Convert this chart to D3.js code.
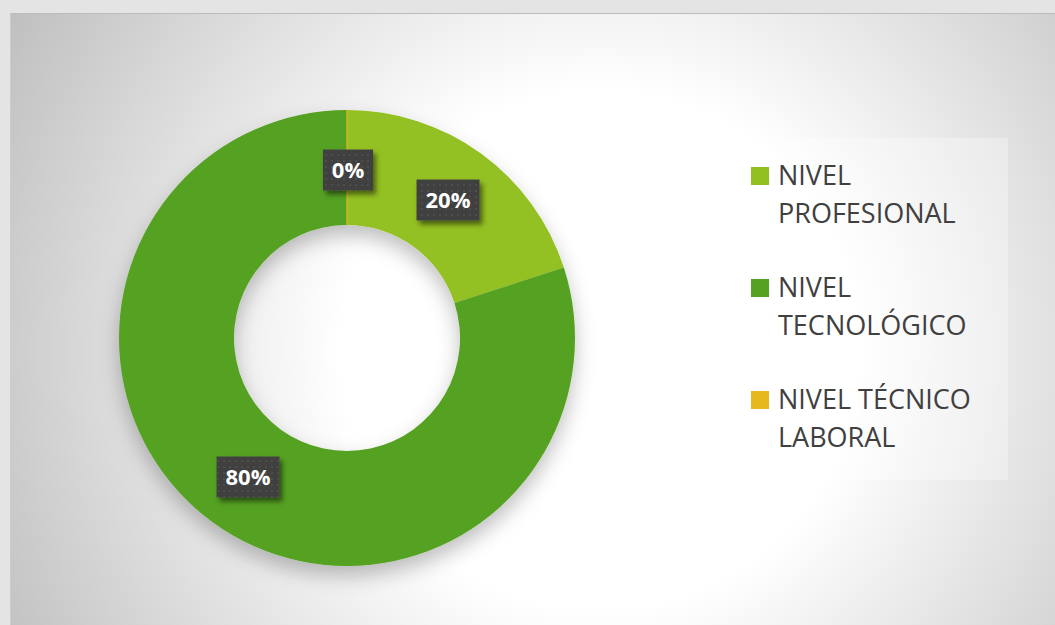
<!DOCTYPE html>
<html><head><meta charset="utf-8">
<script src="https://cdn.jsdelivr.net/npm/d3@7"></script>
<style>
html,body{margin:0;padding:0;background:#e4e4e4;}
svg{display:block;}
</style></head>
<body>
<script>
const categories = ["NIVEL PROFESIONAL", "NIVEL TECNOLÓGICO", "NIVEL TÉCNICO LABORAL"];
const legendLines = [["NIVEL", "PROFESIONAL"], ["NIVEL", "TECNOLÓGICO"], ["NIVEL TÉCNICO", "LABORAL"]];
const values = [20, 80, 0];
const labels = ["20%", "80%", "0%"];
const colors = ["#93c021", "#55a121", "#e6b81e"];

const W = 1055, H = 625;
const svg = d3.select("body").append("svg").attr("width", W).attr("height", H);
const defs = svg.append("defs");

const rg = defs.append("radialGradient").attr("id", "bg")
  .attr("gradientUnits", "userSpaceOnUse")
  .attr("cx", 600).attr("cy", 350).attr("r", 680);
rg.append("stop").attr("offset", "0").attr("stop-color", "#ffffff");
rg.append("stop").attr("offset", "0.38").attr("stop-color", "#ffffff");
rg.append("stop").attr("offset", "1").attr("stop-color", "#bfbfbf");

const sh = defs.append("filter").attr("id", "pieShadow").attr("x", "-30%").attr("y", "-30%").attr("width", "160%").attr("height", "160%");
sh.append("feDropShadow").attr("dx", 0).attr("dy", 10).attr("stdDeviation", 10).attr("flood-color", "#000").attr("flood-opacity", 0.25);

const ls = defs.append("filter").attr("id", "lblShadow").attr("x", "-30%").attr("y", "-30%").attr("width", "160%").attr("height", "160%");
ls.append("feDropShadow").attr("dx", 3).attr("dy", 4).attr("stdDeviation", 2.5).attr("flood-color", "#000").attr("flood-opacity", 0.5);

const pat = defs.append("pattern").attr("id", "dots").attr("patternUnits", "userSpaceOnUse")
  .attr("width", 6).attr("height", 6);
pat.append("rect").attr("width", 6).attr("height", 6).attr("fill", "#404040");
pat.append("rect").attr("x", 2).attr("y", 2).attr("width", 2).attr("height", 2).attr("fill", "#4d4d4d");

// chart area
svg.append("rect").attr("x", 10).attr("y", 13).attr("width", W - 10).attr("height", H - 13).attr("fill", "url(#bg)");
svg.append("line").attr("x1", 10).attr("x2", W).attr("y1", 13.5).attr("y2", 13.5).attr("stroke", "#bcbcbc").attr("stroke-width", 1);
svg.append("line").attr("x1", 10.5).attr("x2", 10.5).attr("y1", 13).attr("y2", H).attr("stroke", "#cccccc").attr("stroke-width", 1);

const cx = 347, cy = 338, rOut = 228, rIn = 113;
const pie = d3.pie().sort(null).value(d => d.v);
const data = pie(values.map((v, i) => ({v, i})));
const arc = d3.arc().innerRadius(rIn).outerRadius(rOut);
const g = svg.append("g").attr("transform", `translate(${cx},${cy})`);
g.append("g").attr("filter", "url(#pieShadow)")
  .selectAll("path").data(data).join("path")
  .attr("d", arc).attr("fill", d => colors[d.data.i]);
// zero-value slice hairline
data.filter(d => d.data.v === 0).forEach(d => {
  const a = d.startAngle;
  g.append("line")
    .attr("x1", rIn * Math.sin(a)).attr("y1", -rIn * Math.cos(a))
    .attr("x2", rOut * Math.sin(a)).attr("y2", -rOut * Math.cos(a))
    .attr("stroke", colors[d.data.i]).attr("stroke-width", 1.2);
});

// data labels
const labelPos = [[101, -138], [-99, 139], [1, -168]];
const boxW = [63, 63, 50], boxH = 41;
const lg = g.append("g");
data.forEach((d, k) => {
  const i = d.data.i;
  const [lx, ly] = labelPos[i];
  const bw = boxW[i];
  lg.append("rect").attr("x", lx - bw / 2).attr("y", ly - boxH / 2).attr("width", bw).attr("height", boxH)
    .attr("fill", "url(#dots)").attr("filter", "url(#lblShadow)");
  lg.append("text").attr("x", lx).attr("y", ly).attr("dy", "0.36em").attr("text-anchor", "middle")
    .attr("font-family", "'Open Sans', sans-serif").attr("font-weight", "bold").attr("font-size", 22)
    .attr("fill", "#ffffff").text(labels[i]);
});

// legend
svg.append("rect").attr("x", 716).attr("y", 138).attr("width", 292).attr("height", 342)
  .attr("fill", "#ffffff").attr("fill-opacity", 0.3);
const leg = svg.append("g");
categories.forEach((c, i) => {
  const y0 = 185 + i * 112;
  leg.append("rect").attr("x", 751).attr("y", y0 - 18).attr("width", 18).attr("height", 18).attr("fill", colors[i]);
  const t = leg.append("text").attr("x", 778).attr("y", y0)
    .attr("font-family", "'Open Sans', sans-serif").attr("font-size", 27).attr("fill", "#404040");
  legendLines[i].forEach((ln, j) => {
    t.append("tspan").attr("x", 778).attr("y", y0 + j * 38).text(ln);
  });
});
</script>
</body></html>
